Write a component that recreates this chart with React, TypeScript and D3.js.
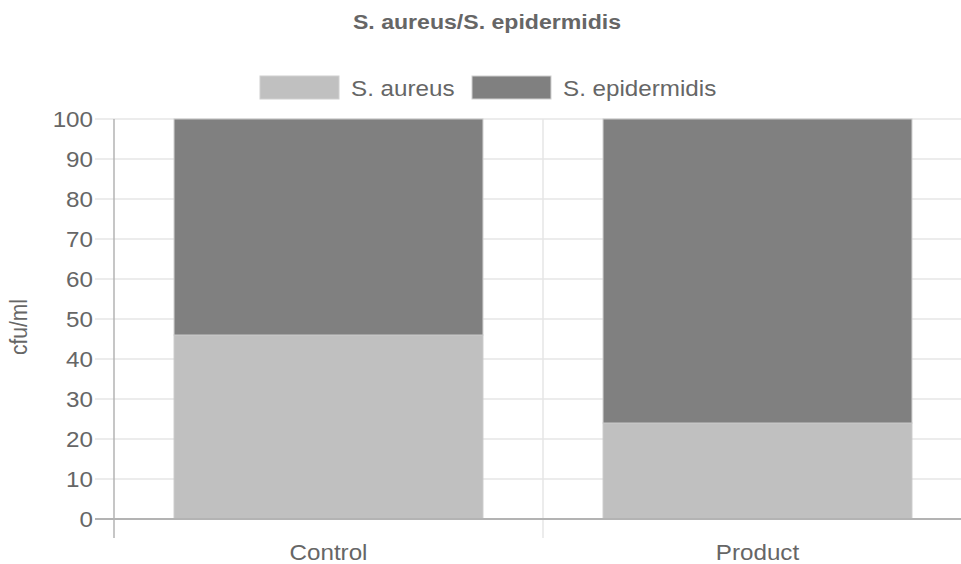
import React from "react";
import * as d3 from "d3";

const categories = ["Control", "Product"];
const seriesNames = ["S. aureus", "S. epidermidis"];
const aureus = [46, 24];
const epidermidis = [54, 76];
const seriesColors = ["#c0c0c0", "#808080"];
const yTicks = [0, 10, 20, 30, 40, 50, 60, 70, 80, 90, 100];

const SX = 1.1;

function T(props: { x: number; y: number; anchor?: string; size: number; weight?: string; children: any; fill: string }) {
  return (
    <text transform={`translate(${props.x},${props.y}) scale(${SX},1)`} textAnchor={props.anchor || "start"}
      fontSize={props.size} fontWeight={props.weight || "normal"} fill={props.fill}>{props.children}</text>
  );
}

export default function App() {
  const W = 961, H = 564;
  const left = 114, right = 972, top = 119, bottom = 519;
  const x = d3.scaleBand().domain(categories).range([left, right]).paddingInner(0).paddingOuter(0);
  const y = d3.scaleLinear().domain([0, 100]).range([bottom, top]);
  const rows = categories.map((c, i) => ({ cat: c, a: aureus[i], e: epidermidis[i] }));
  const stack = d3.stack<any>().keys(["a", "e"])(rows);
  const bw = x.bandwidth() * 0.72;
  const font = "'Liberation Sans', Arial, sans-serif";
  const txt = "#666666";
  const grid = "#e6e6e6";
  return (
    <svg width={W} height={H} style={{ position: "absolute", left: 0, top: 0 }} fontFamily={font}>
      <rect width={W} height={H} fill="#fff" />
      <T x={487} y={29} anchor="middle" weight="bold" size={21} fill={txt}>S. aureus/S. epidermidis</T>
      {/* legend */}
      {[{ bx: 260, tx: 351 }, { bx: 472, tx: 563 }].map((p, i) => (
        <g key={i}>
          <rect x={p.bx} y={76} width={79} height={23} fill={seriesColors[i]} stroke="#d0d0d0" strokeWidth={1} />
          <T x={p.tx} y={96} size={22} fill={txt}>{seriesNames[i]}</T>
        </g>
      ))}
      {/* grid */}
      {yTicks.map((t) => (
        <g key={t}>
          <line x1={95} x2={W} y1={y(t)} y2={y(t)} stroke={t === 0 ? "#b3b3b3" : grid} strokeWidth={t === 0 ? 2 : 1.5} />
          <T x={93} y={y(t) + 8} anchor="end" size={22} fill={txt}>{t}</T>
        </g>
      ))}
      {/* vertical lines */}
      <line x1={left} x2={left} y1={top} y2={538} stroke="#b3b3b3" strokeWidth={1.5} />
      {categories.slice(1).map((c) => (
        <line key={c} x1={x(c)!} x2={x(c)!} y1={top} y2={538} stroke={grid} strokeWidth={1.5} />
      ))}
      {/* bars */}
      {stack.map((s, si) => (
        <g key={si}>
          {s.map((d, i) => {
            const cx = x(categories[i])! + x.bandwidth() / 2;
            return (
              <rect key={i} x={cx - bw / 2} y={y(d[1])} width={bw} height={y(d[0]) - y(d[1])}
                fill={seriesColors[si]} stroke="#c8c8c8" strokeWidth={1} />
            );
          })}
        </g>
      ))}
      <line x1={left} x2={W} y1={bottom} y2={bottom} stroke="#b3b3b3" strokeWidth={2} />
      {categories.map((c) => (
        <T key={c} x={x(c)! + x.bandwidth() / 2} y={560} anchor="middle" size={22} fill={txt}>{c}</T>
      ))}
      <text transform={`translate(27,327) rotate(-90) scale(1,${SX})`} textAnchor="middle" fontSize={21} fill={txt}>cfu/ml</text>
    </svg>
  );
}
